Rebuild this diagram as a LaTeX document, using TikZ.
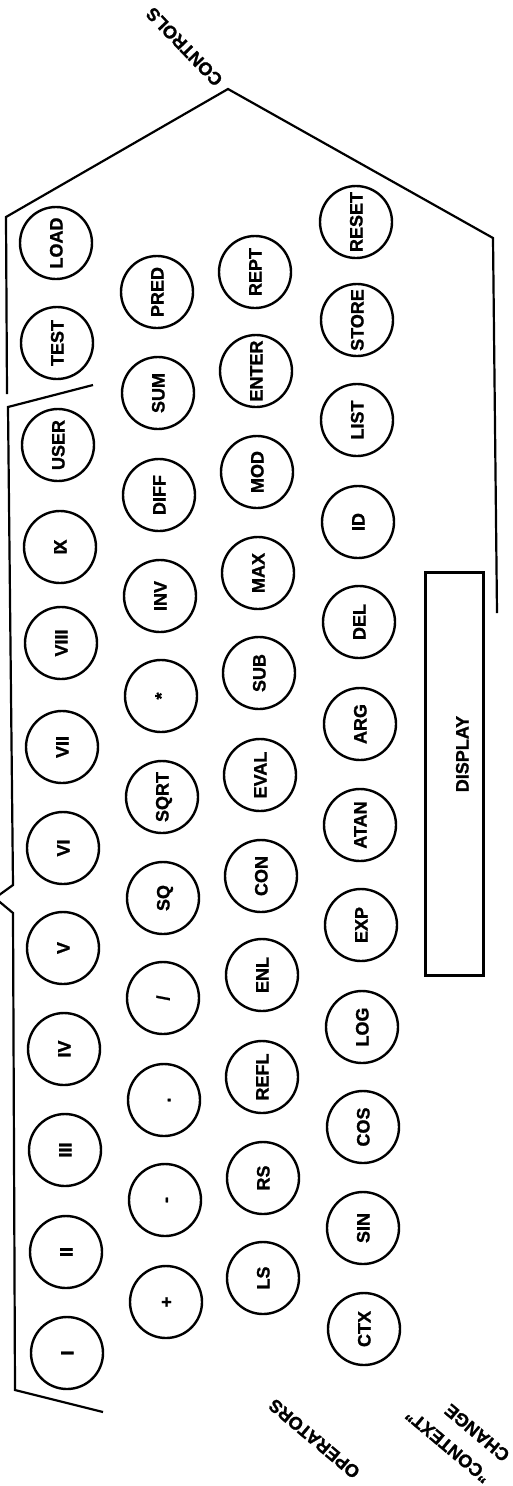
\documentclass[tikz,border=0pt]{standalone}
\usepackage{fontspec}
\setmainfont{Liberation Sans}[BoldFeatures={FakeBold=1.2}]
\newcommand\kf{\bfseries\fontsize{18pt}{20pt}\selectfont}
\tikzset{
  key/.style={circle, draw, line width=2.4pt, minimum size=72pt, inner sep=0pt,
              rotate=90, font=\kf, text height=13pt, text depth=0pt},
  brk/.style={line width=2.2pt, line join=miter},
  lbl/.style={font=\kf, inner sep=0pt, text height=13pt, text depth=0pt},
  lbltwo/.style={font=\bfseries\fontsize{18pt}{29pt}\selectfont, inner sep=0pt, align=center},
}
\begin{document}
\begin{tikzpicture}[x=1pt,y=-1pt]
\useasboundingbox (0,0) rectangle (512,1486);
% row 1
\node[key] (kI)    at (67,1353) {I};
\node[key] (kII)   at (66,1252) {II};
\node[key] (kIII)  at (65,1150) {III};
\node[key] (kIV)   at (64,1049) {IV};
\node[key] (kV)    at (63,948)  {V};
\node[key] (kVI)   at (63,848)  {VI};
\node[key] (kVII)  at (62,747)  {VII};
\node[key] (kVIII) at (61,643)  {VIII};
\node[key] (kIX)   at (60,547)  {I\kern-0.12em X};
\node[key] (kUSER) at (58,445)  {USER};
\node[key] (kTEST) at (57,343)  {TEST};
\node[key] (kLOAD) at (56,243)  {LOAD};
% row 2
\node[key] (kplus)  at (166,1302) {+};
\node[key] (kminus) at (165,1200) {-};
\node[key] (kdot)   at (164,1100) {.};
\node[key] (kslash) at (163,998)  {/};
\node[key] (kSQ)    at (163,898)  {SQ};
\node[key] (kSQRT)  at (162,797)  {SQRT};
\node[key] (kstar)  at (161,696)  {*};
\node[key] (kINV)   at (160,596)  {INV};
\node[key] (kDIFF)  at (159,495)  {DIFF};
\node[key] (kSUM)   at (158,393)  {SUM};
\node[key] (kPRED)  at (157,292)  {PRED};
% row 3
\node[key] (kLS)    at (263,1278) {LS};
\node[key] (kRS)    at (263,1178) {RS};
\node[key] (kREFL)  at (262,1077) {REFL};
\node[key] (kENL)   at (262,975)  {ENL};
\node[key] (kCON)   at (261,876)  {CON};
\node[key] (kEVAL)  at (260,775)  {EVAL};
\node[key] (kSUB)   at (259,673)  {SUB};
\node[key] (kMAX)   at (258,573)  {MAX};
\node[key] (kMOD)   at (257,472)  {MOD};
\node[key] (kENTER) at (256,371)  {ENTER};
\node[key] (kREPT)  at (255,272)  {REPT};
% row 4
\node[key] (kCTX)   at (364,1329) {CTX};
\node[key] (kSIN)   at (363,1228) {SIN};
\node[key] (kCOS)   at (363,1127) {COS};
\node[key] (kLOG)   at (362,1027) {LOG};
\node[key] (kEXP)   at (361,925)  {EXP};
\node[key] (kATAN)  at (360,825)  {ATAN};
\node[key] (kARG)   at (360,724)  {ARG};
\node[key] (kDEL)   at (359,622)  {DEL};
\node[key] (kID)    at (358,522)  {ID};
\node[key] (kLIST)  at (357,420)  {LIST};
\node[key] (kSTORE) at (357,320)  {STORE};
\node[key] (kRESET) at (356,222)  {RESET};
% display
\node[draw, rectangle, line width=3pt, minimum width=58pt, minimum height=403pt,
      inner sep=0pt] (display) at (454.5,774) {};
\node[lbl, rotate=90] (displaytext) at (462,754) {DISPLAY};
% brackets
\draw[brk] (103,1412) -- (15,1390) -- (13,913) -- (-5,898) -- (13,885) -- (8,407) -- (93,385);
\draw[brk] (7,394) -- (6,217) -- (228,89) -- (493,238) -- (497,613);
% group labels
\node[lbl, rotate=134] (controls)  at (184,47)   {CONTROLS};
\node[lbl, rotate=140] (operators) at (314,1439) {OPERATORS};
\node[lbltwo, rotate=140] (context) at (457,1435) {"CONTEXT"\\\hspace*{-28pt}CHANGE};
\end{tikzpicture}
\end{document}
